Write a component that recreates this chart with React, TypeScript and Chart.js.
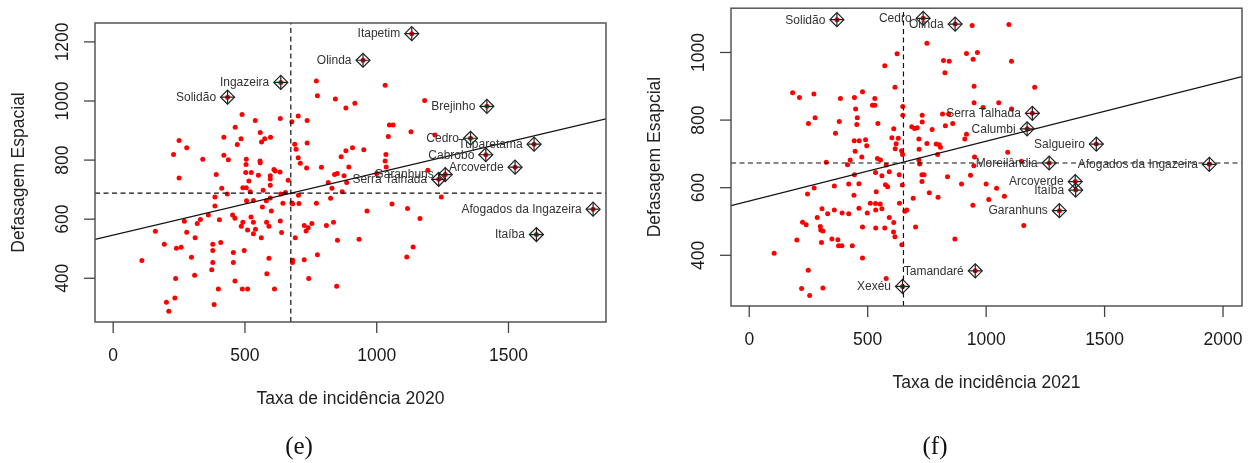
import React, { useEffect, useRef } from 'react';
import { Chart, registerables } from 'chart.js';

Chart.register(...registerables);

const FONT = '"Liberation Sans", Arial, sans-serif';
const SERIF = '"Liberation Serif", "Times New Roman", serif';

// ---------------- Panel (e): 2020 ----------------
const xE = [771, 1032, 775, 843, 1182, 917, 883, 489, 702, 634, 539, 678, 736, 1048, 1062, 463, 558, 1130, 420, 485, 575, 597, 563, 1044, 250, 471, 689, 736, 279, 694, 908, 883, 951, 229, 420, 437, 340, 505, 702, 865, 1035, 557, 558, 1032, 504, 710, 734, 790, 894, 1036, 610, 615, 503, 524, 551, 596, 633, 391, 840, 850, 876, 1000, 250, 596, 664, 515, 816, 886, 596, 492, 505, 412, 830, 520, 569, 433, 869, 636, 654, 703, 386, 506, 532, 581, 596, 644, 678, 681, 705, 771, 825, 1058, 386, 566, 1117, 600, 963, 361, 453, 462, 523, 403, 331, 270, 319, 492, 532, 582, 634, 754, 836, 1164, 486, 591, 725, 740, 809, 510, 540, 160, 279, 532, 639, 732, 311, 562, 691, 851, 933, 194, 378, 408, 240, 258, 378, 456, 497, 1138, 297, 591, 681, 680, 725, 775, 1114, 109, 378, 456, 374, 309, 583, 237, 462, 742, 848, 399, 490, 510, 612, 234, 202, 383, 211, 1221, 1194, 1245];
const yE = [1068, 1053, 1018, 1007, 1002, 992, 976, 954, 949, 941, 934, 930, 934, 919, 919, 911, 893, 896, 877, 872, 872, 877, 861, 880, 866, 853, 854, 858, 842, 837, 842, 832, 835, 819, 816, 801, 803, 803, 808, 811, 819, 797, 791, 797, 785, 789, 773, 776, 777, 777, 768, 763, 758, 758, 749, 747, 760, 751, 751, 755, 747, 755, 739, 736, 732, 729, 724, 724, 715, 706, 706, 705, 705, 693, 698, 685, 693, 685, 690, 681, 675, 662, 663, 662, 672, 654, 655, 652, 653, 654, 671, 651, 645, 641, 636, 628, 628, 614, 614, 603, 607, 598, 599, 593, 585, 590, 590, 590, 594, 585, 590, 602, 576, 576, 579, 571, 579, 563, 566, 559, 556, 551, 555, 560, 537, 537, 537, 529, 532, 515, 515, 521, 502, 505, 494, 487, 494, 506, 471, 468, 461, 453, 463, 480, 472, 460, 453, 453, 429, 410, 415, 399, 391, 399, 373, 364, 364, 364, 364, 333, 319, 311, 288, 885, 766, 675];
const labNamesE = ['Itapetim', 'Olinda', 'Ingazeira', 'Solidão', 'Brejinho', 'Cedro', 'Tuparetama', 'Cabrobó', 'Arcoverde', 'Garanhuns', 'Serra Talhada', 'Afogados da Ingazeira', 'Itaíba'];
const labXE = [1133, 948, 636, 434, 1418, 1356, 1597, 1414, 1525, 1260, 1235, 1821, 1606];
const labYE = [1228, 1138, 1063, 1013, 982, 874, 854, 818, 776, 751, 735, 634, 548];
const xTicksE = [0, 500, 1000, 1500];
const yTicksE = [400, 600, 800, 1000, 1200];
const meanXE = 674;
const meanYE = 688;
const slopeE = 0.2103;
const interceptE = 546.3;
const xTitleE = 'Taxa de incidência 2020';
const yTitleE = 'Defasagem Espacial';
const captionE = '(e)';

// ---------------- Panel (f): 2021 ----------------
const xF = [941, 1096, 750, 624, 917, 963, 820, 844, 945, 1107, 572, 826, 615, 949, 1205, 183, 212, 273, 385, 444, 478, 530, 520, 530, 949, 987, 1053, 1107, 449, 648, 648, 730, 816, 842, 278, 250, 380, 456, 454, 543, 730, 859, 828, 686, 698, 709, 772, 610, 364, 917, 910, 716, 443, 464, 491, 629, 602, 620, 750, 789, 802, 807, 447, 496, 616, 643, 647, 717, 795, 1091, 475, 541, 554, 578, 426, 325, 415, 716, 719, 951, 948, 1149, 533, 560, 591, 444, 633, 729, 738, 837, 934, 729, 274, 359, 420, 463, 575, 584, 646, 896, 1000, 1044, 246, 442, 536, 760, 797, 1077, 1011, 692, 511, 533, 553, 634, 944, 307, 463, 534, 560, 665, 657, 331, 359, 392, 420, 498, 287, 225, 240, 591, 610, 300, 302, 311, 478, 534, 572, 702, 1159, 609, 615, 201, 305, 349, 374, 377, 391, 435, 868, 644, 105, 478, 249, 578, 221, 311, 255];
const yF = [1080, 1083, 1027, 996, 997, 1000, 976, 974, 980, 974, 961, 940, 897, 900, 897, 881, 867, 877, 864, 867, 884, 864, 844, 844, 851, 837, 851, 833, 833, 840, 814, 814, 818, 818, 807, 790, 796, 807, 787, 790, 794, 790, 783, 780, 775, 777, 772, 774, 761, 758, 744, 744, 739, 739, 742, 746, 748, 730, 731, 729, 727, 720, 708, 724, 715, 709, 698, 714, 698, 705, 691, 686, 682, 667, 682, 675, 668, 682, 670, 691, 665, 678, 645, 635, 647, 638, 638, 638, 638, 632, 637, 618, 599, 605, 611, 612, 609, 603, 608, 611, 611, 598, 581, 578, 588, 585, 572, 575, 565, 569, 554, 553, 552, 554, 548, 538, 539, 534, 538, 534, 530, 523, 534, 525, 523, 525, 512, 498, 490, 512, 497, 485, 475, 472, 484, 481, 481, 484, 488, 469, 455, 445, 438, 448, 446, 428, 428, 428, 448, 431, 406, 392, 356, 331, 302, 303, 281];
const labNamesF = ['Solidão', 'Cedro', 'Olinda', 'Serra Talhada', 'Calumbi', 'Salgueiro', 'Moreilândia', 'Afogados da Ingazeira', 'Arcoverde', 'Itaíba', 'Garanhuns', 'Tamandaré', 'Xexéu'];
const labXF = [370, 734, 869, 1195, 1173, 1465, 1266, 1942, 1376, 1378, 1309, 954, 647];
const labYF = [1097, 1101, 1084, 820, 774, 729, 673, 669, 618, 593, 532, 354, 308];
const xTicksF = [0, 500, 1000, 1500, 2000];
const yTicksF = [400, 600, 800, 1000];
const meanXF = 651;
const meanYF = 673;
const slopeF = 0.177;
const interceptF = 560.5;
const xTitleF = 'Taxa de incidência 2021';
const yTitleF = 'Defasagem Esapcial';
const captionF = '(f)';

type Spec = {
  xs: number[]; ys: number[];
  labNames: string[]; labX: number[]; labY: number[];
  xTicks: number[]; yTicks: number[];
  meanX: number; meanY: number; slope: number; intercept: number;
  xMin: number; xMax: number; yMin: number; yMax: number;
  padding: { left: number; right: number; top: number; bottom: number };
  xTitle: string; yTitle: string; caption: string; captionX: number;
  width: number; height: number;
};

const specE: Spec = {
  xs: xE, ys: yE, labNames: labNamesE, labX: labXE, labY: labYE,
  xTicks: xTicksE, yTicks: yTicksE, meanX: meanXE, meanY: meanYE,
  slope: slopeE, intercept: interceptE,
  xMin: -69, xMax: 1870, yMin: 252, yMax: 1264,
  padding: { left: 95, right: 19, top: 23, bottom: 141 },
  xTitle: xTitleE, yTitle: yTitleE, caption: captionE, captionX: 299,
  width: 625, height: 463,
};

const specF: Spec = {
  xs: xF, ys: yF, labNames: labNamesF, labX: labXF, labY: labYF,
  xTicks: xTicksF, yTicks: yTicksF, meanX: meanXF, meanY: meanYF,
  slope: slopeF, intercept: interceptF,
  xMin: -77, xMax: 2080, yMin: 250, yMax: 1131,
  padding: { left: 106, right: 16, top: 6, bottom: 157 },
  xTitle: xTitleF, yTitle: yTitleF, caption: captionF, captionX: 310,
  width: 633, height: 463,
};

function decorPlugin(spec: Spec) {
  return {
    id: 'moranDecor',
    afterDatasetsDraw(chart: any) {
      const { ctx } = chart;
      const xs = chart.scales.x;
      const ys = chart.scales.y;
      ctx.save();
      ctx.font = `12px ${FONT}`;
      ctx.fillStyle = '#333';
      ctx.textAlign = 'right';
      ctx.textBaseline = 'middle';
      spec.labNames.forEach((n, i) => {
        const px = xs.getPixelForValue(spec.labX[i]);
        const py = ys.getPixelForValue(spec.labY[i]);
        ctx.fillText(n, px - 11.5, py + 0.5);
      });
      ctx.restore();
    },
    afterDraw(chart: any) {
      const { ctx, chartArea: ca } = chart;
      const xs = chart.scales.x;
      const ys = chart.scales.y;
      ctx.save();
      // box
      ctx.strokeStyle = '#555';
      ctx.lineWidth = 1.5;
      ctx.strokeRect(ca.left, ca.top, ca.right - ca.left, ca.bottom - ca.top);
      // ticks
      ctx.strokeStyle = '#444';
      ctx.lineWidth = 1.3;
      ctx.fillStyle = '#1a1a1a';
      ctx.font = `17.5px ${FONT}`;
      ctx.textAlign = 'center';
      ctx.textBaseline = 'middle';
      spec.xTicks.forEach((v) => {
        const px = xs.getPixelForValue(v);
        ctx.beginPath();
        ctx.moveTo(px, ca.bottom);
        ctx.lineTo(px, ca.bottom + 11);
        ctx.stroke();
        ctx.fillText(String(v), px, ca.bottom + 34);
      });
      spec.yTicks.forEach((v) => {
        const py = ys.getPixelForValue(v);
        ctx.beginPath();
        ctx.moveTo(ca.left, py);
        ctx.lineTo(ca.left - 11, py);
        ctx.stroke();
        ctx.save();
        ctx.translate(ca.left - 32, py);
        ctx.rotate(-Math.PI / 2);
        ctx.fillText(String(v), 0, 0);
        ctx.restore();
      });
      // titles
      ctx.fillStyle = '#222';
      ctx.fillText(spec.xTitle, (ca.left + ca.right) / 2, ca.bottom + 77);
      ctx.save();
      ctx.translate(ca.left - 76, (ca.top + ca.bottom) / 2);
      ctx.rotate(-Math.PI / 2);
      ctx.fillText(spec.yTitle, 0, 0);
      ctx.restore();
      // caption
      ctx.fillStyle = '#111';
      ctx.font = `25px ${SERIF}`;
      ctx.fillText(spec.caption, spec.captionX, 447);
      ctx.restore();
    },
  };
}

function Panel({ spec }: { spec: Spec }) {
  const ref = useRef<HTMLCanvasElement | null>(null);
  useEffect(() => {
    if (!ref.current) return;
    const all = spec.xs.map((x, i) => ({ x, y: spec.ys[i] }))
      .concat(spec.labX.map((x, i) => ({ x, y: spec.labY[i] })));
    const lab = spec.labX.map((x, i) => ({ x, y: spec.labY[i] }));
    const reg = [spec.xMin, spec.xMax].map((x) => ({ x, y: spec.intercept + spec.slope * x }));
    const vline = [{ x: spec.meanX, y: spec.yMin }, { x: spec.meanX, y: spec.yMax }];
    const hline = [{ x: spec.xMin, y: spec.meanY }, { x: spec.xMax, y: spec.meanY }];
    const chart = new Chart(ref.current, {
      type: 'scatter',
      data: {
        datasets: [
          { data: lab, pointStyle: 'cross', pointRadius: 7, borderColor: '#222', borderWidth: 1.2, backgroundColor: 'transparent' } as any,
          { data: lab, pointStyle: 'rectRot', pointRadius: 7, borderColor: '#222', borderWidth: 1.2, backgroundColor: 'transparent' } as any,
          { data: reg, showLine: true, pointRadius: 0, borderColor: '#111', borderWidth: 1.2 } as any,
          { data: vline, showLine: true, pointRadius: 0, borderColor: '#111', borderWidth: 1.2, borderDash: [5, 3.5] } as any,
          { data: hline, showLine: true, pointRadius: 0, borderColor: '#111', borderWidth: 1.2, borderDash: [5, 3.5] } as any,
          { data: all, pointStyle: 'circle', pointRadius: 2.5, backgroundColor: '#ff0000', borderWidth: 0 } as any,
        ],
      },
      options: {
        responsive: false,
        maintainAspectRatio: false,
        devicePixelRatio: 1,
        animation: false,
        events: [],
        layout: { padding: spec.padding },
        scales: {
          x: { type: 'linear', display: false, min: spec.xMin, max: spec.xMax },
          y: { type: 'linear', display: false, min: spec.yMin, max: spec.yMax },
        },
        plugins: { legend: { display: false }, tooltip: { enabled: false } },
      },
      plugins: [decorPlugin(spec)],
    } as any);
    return () => chart.destroy();
  }, [spec]);
  return (
    <canvas
      ref={ref}
      width={spec.width}
      height={spec.height}
      style={{ display: 'block', width: spec.width, height: spec.height }}
    />
  );
}

export default function App() {
  return (
    <div style={{ position: 'absolute', left: 0, top: 0, width: 1258, height: 463, background: '#fff', overflow: 'hidden' }}>
      <div style={{ position: 'absolute', left: 0, top: 0 }}>
        <Panel spec={specE} />
      </div>
      <div style={{ position: 'absolute', left: 625, top: 0 }}>
        <Panel spec={specF} />
      </div>
    </div>
  );
}
